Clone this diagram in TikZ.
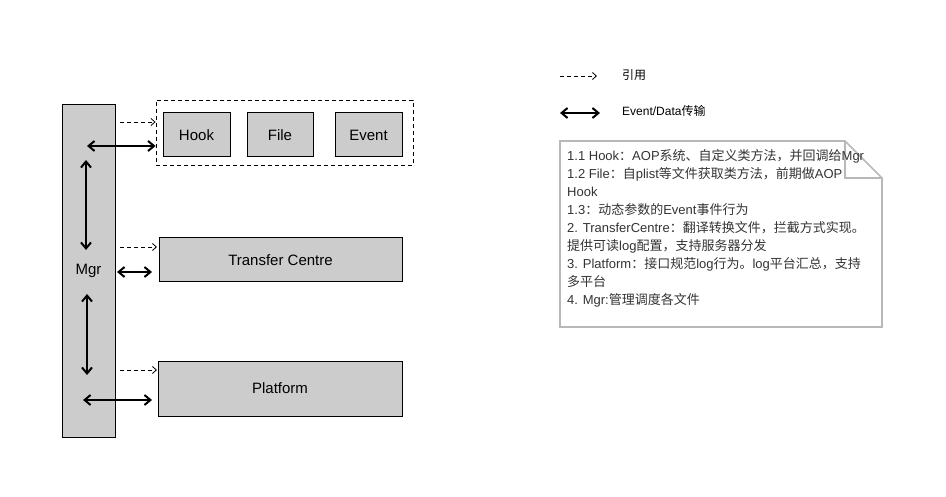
\documentclass[tikz,border=0pt]{standalone}
\usepackage{fontspec}
\setmainfont{Liberation Sans}
\newfontfamily\cjk{Noto Sans CJK SC}
\usetikzlibrary{arrows.meta}
\definecolor{boxgray}{HTML}{CCCCCC}
\definecolor{notegray}{HTML}{B8B8B8}
\definecolor{notetext}{HTML}{333333}
\tikzset{
  blk/.style={draw=black, fill=boxgray, line width=1pt, inner sep=0pt, font=\fontsize{15}{18}\selectfont},
  grpbox/.style={draw=black, dash pattern=on 4pt off 3pt, line width=0.8pt, inner sep=0pt},
  refarrow/.style={line width=0.8pt, dash pattern=on 4pt off 3pt, -{Straight Barb[length=4pt,width=7pt,line width=0.8pt]}},
  dataarrow/.style={line width=2pt, {Straight Barb[length=6pt,width=10pt,line width=2pt]}-{Straight Barb[length=6pt,width=10pt,line width=2pt]}},
  notel/.style={anchor=base west, inner sep=0pt, text=notetext, font=\fontsize{13}{18}\selectfont},
  legtext/.style={anchor=west, inner sep=0pt, text=black, font=\fontsize{12}{14}\selectfont}
}
\begin{document}
\begin{tikzpicture}[x=1pt,y=-1pt]
\useasboundingbox (0,0) rectangle (946,497);
% main boxes
\node[blk, minimum width=53pt, minimum height=332pt] (mgr) at (88.5,271) {Mgr};
\node[grpbox, minimum width=257pt, minimum height=65pt] (grp) at (284.5,132.5) {};
\node[blk, minimum width=67pt, minimum height=44pt] (hook) at (196.5,135) {Hook};
\node[blk, minimum width=66pt, minimum height=44pt] (file) at (280,135) {File};
\node[blk, minimum width=67pt, minimum height=44pt] (event) at (368.5,135) {Event};
\node[blk, minimum width=243pt, minimum height=44pt] (tc) at (280.5,260) {Transfer Centre};
\node[blk, minimum width=244pt, minimum height=55pt] (pf) at (280,388.5) {Platform};
% connector anchor points
\coordinate (d1) at (120,122);
\coordinate (a1) at (87,146);
\coordinate (v1s) at (86,160);
\coordinate (v1e) at (86,250);
\coordinate (d2s) at (120,247);
\coordinate (d2e) at (157,247);
\coordinate (a2s) at (117,272);
\coordinate (a2e) at (152,272);
\coordinate (v2s) at (87,294);
\coordinate (v2e) at (87,375);
\coordinate (d3s) at (120,370);
\coordinate (d3e) at (157,370);
\coordinate (a3s) at (83,400);
\coordinate (a3e) at (152,400);
% connectors
\draw[refarrow] (d1) -- (d1 -| grp.west);
\draw[dataarrow] (a1) -- (a1 -| grp.west);
\draw[dataarrow] (v1s) -- (v1e);
\draw[refarrow] (d2s) -- (d2e);
\draw[dataarrow] (a2s) -- (a2e);
\draw[dataarrow] (v2s) -- (v2e);
\draw[refarrow] (d3s) -- (d3e);
\draw[dataarrow] (a3s) -- (a3e);
% legend
\coordinate (l1s) at (560,76);
\coordinate (l1e) at (597,76);
\coordinate (l2s) at (560,113);
\coordinate (l2e) at (600,113);
\draw[refarrow] (l1s) -- (l1e);
\draw[dataarrow] (l2s) -- (l2e);
\node[legtext] (lt1) at (622,75) {\cjk 引用};
\node[legtext] (lt2) at (622,111) {Event/Data\cjk 传输};
% note
\draw[notegray, line width=1.6pt, line join=miter] (560,141) -- (845,141) -- (882,178) -- (882,327) -- (560,327) -- cycle;
\draw[notegray, line width=1.6pt] (845,141) -- (845,178) -- (882,178);
\node[notel] (n1) at (567,161) {1.1 Hook{\cjk ：}AOP{\cjk 系统、自定义类方法，并回调给}Mgr};
\node[notel] (n2) at (567,179) {1.2 File{\cjk ：自}plist{\cjk 等文件获取类方法，前期做}AOP};
\node[notel] (n3) at (567,197) {Hook};
\node[notel] (n4) at (567,215) {1.3{\cjk ：动态参数的}Event{\cjk 事件行为}};
\node[notel] (n5) at (567,233) {2. TransferCentre{\cjk ：翻译转换文件，拦截方式实现。}};
\node[notel] (n6) at (567,251) {{\cjk 提供可读}log{\cjk 配置，支持服务器分发}};
\node[notel] (n7) at (567,269) {3. Platform{\cjk ：接口规范}log{\cjk 行为。}log{\cjk 平台汇总，支持}};
\node[notel] (n8) at (567,287) {{\cjk 多平台}};
\node[notel] (n9) at (567,305) {4. Mgr:{\cjk 管理调度各文件}};
\end{tikzpicture}
\end{document}
